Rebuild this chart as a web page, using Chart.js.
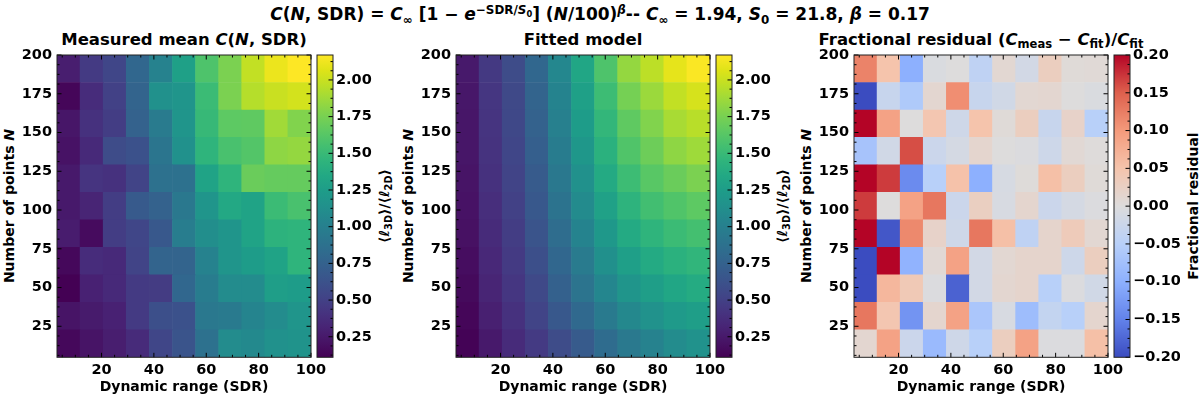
<!DOCTYPE html>
<html>
<head>
<meta charset="utf-8">
<script src="https://cdn.jsdelivr.net/npm/chart.js@4.4.1/dist/chart.umd.min.js"></script>
<style>
  body { margin: 0; width: 1200px; height: 398px; position: relative; overflow: hidden; background: #fff;
         font-family: "DejaVu Sans", sans-serif; font-weight: bold; color: #000; }
  canvas, .txt { position: absolute; }
  .txt { white-space: nowrap; transform: translate(-50%, -50%); line-height: 1; }
  .rot { transform: translate(-50%, -50%) rotate(-90deg); }
  .sup-title { font-size: 17px; }
  .ptitle { font-size: 16.5px; }
  .lab { font-size: 14px; }
  sub, sup { font-size: 70%; line-height: 0; position: relative; vertical-align: baseline; }
  sub { top: 0.3em; }
  sup { top: -0.5em; }
</style>
</head>
<body>
<div class="txt sup-title" style="left:600px; top:14px">
  <i>C</i>(<i>N</i>, SDR) = <i>C</i><sub>∞</sub> [1 − <i>e</i><sup>−SDR/<i>S</i><sub>0</sub></sup>] (<i>N</i>/100)<sup><i>β</i></sup>-- <i>C</i><sub>∞</sub> = 1.94, <i>S</i><sub>0</sub> = 21.8, <i>β</i> = 0.17
</div>

<div class="txt ptitle" style="left:184px; top:40px">Measured mean <i>C</i>(<i>N</i>, SDR)</div>
<div class="txt ptitle" style="left:583px; top:40px">Fitted model</div>
<div class="txt ptitle" style="left:981px; top:40px">Fractional residual (<i>C</i><sub>meas</sub> − <i>C</i><sub>fit</sub>)/<i>C</i><sub>fit</sub></div>

<div class="txt rot lab" style="left:9px; top:206px">Number of points <i>N</i></div>
<div class="txt rot lab" style="left:408px; top:206px">Number of points <i>N</i></div>
<div class="txt rot lab" style="left:806px; top:206px">Number of points <i>N</i></div>

<div class="txt rot lab" style="left:384px; top:206px">⟨<i>ℓ</i><sub>3D</sub>⟩/⟨<i>ℓ</i><sub>2D</sub>⟩</div>
<div class="txt rot lab" style="left:782px; top:206px">⟨<i>ℓ</i><sub>3D</sub>⟩/⟨<i>ℓ</i><sub>2D</sub>⟩</div>
<div class="txt rot lab" style="left:1193px; top:206px">Fractional residual</div>

<canvas id="measured" width="336" height="398" style="left:0px; top:0px"></canvas>
<canvas id="fitted" width="336" height="398" style="left:399px; top:0px"></canvas>
<canvas id="residual" width="336" height="398" style="left:797px; top:0px"></canvas>
<canvas id="cbMeasured" width="83" height="398" style="left:300px; top:0px"></canvas>
<canvas id="cbFitted" width="83" height="398" style="left:699px; top:0px"></canvas>
<canvas id="cbResidual" width="83" height="398" style="left:1097px; top:0px"></canvas>

<script>
// cell centres (SDR across, N up), rows listed from smallest N to largest
const sdr = [7.41, 16.23, 25.05, 33.86, 42.68, 51.5, 60.32, 69.14, 77.95, 86.77, 95.59];
const nPoints = [13.86, 31.59, 49.32, 67.05, 84.77, 102.5, 120.23, 137.95, 155.68, 173.41, 191.14];

const measured = [
  [0.15, 0.22, 0.28, 0.36, 0.54, 0.64, 0.87, 1.10, 1.08, 1.14, 1.16],
  [0.22, 0.26, 0.30, 0.46, 0.60, 0.62, 0.93, 0.95, 1.04, 1.10, 1.18],
  [0.11, 0.30, 0.35, 0.46, 0.47, 0.79, 0.97, 1.10, 1.10, 1.26, 1.24],
  [0.15, 0.37, 0.35, 0.52, 0.77, 0.77, 1.02, 1.18, 1.24, 1.30, 1.45],
  [0.27, 0.17, 0.48, 0.54, 0.67, 0.98, 1.12, 1.18, 1.30, 1.43, 1.45],
  [0.25, 0.32, 0.48, 0.69, 0.75, 0.93, 1.18, 1.35, 1.30, 1.51, 1.57],
  [0.25, 0.42, 0.40, 0.52, 0.87, 0.87, 1.30, 1.45, 1.70, 1.68, 1.68],
  [0.21, 0.35, 0.58, 0.62, 0.91, 1.14, 1.45, 1.57, 1.61, 1.82, 1.84],
  [0.23, 0.40, 0.48, 0.75, 0.96, 1.18, 1.49, 1.65, 1.66, 1.88, 1.78],
  [0.14, 0.37, 0.50, 0.77, 1.14, 1.18, 1.51, 1.76, 1.94, 2.00, 2.03],
  [0.28, 0.46, 0.54, 0.79, 1.02, 1.28, 1.59, 1.76, 1.98, 2.11, 2.17],
];

const fitted = [
  [0.12, 0.25, 0.36, 0.46, 0.58, 0.70, 0.83, 0.94, 1.02, 1.10, 1.15],
  [0.14, 0.29, 0.40, 0.52, 0.67, 0.81, 0.95, 1.07, 1.15, 1.22, 1.26],
  [0.16, 0.32, 0.43, 0.56, 0.74, 0.90, 1.05, 1.18, 1.26, 1.33, 1.37],
  [0.18, 0.34, 0.46, 0.60, 0.79, 0.96, 1.13, 1.27, 1.36, 1.42, 1.46],
  [0.20, 0.36, 0.48, 0.64, 0.84, 1.03, 1.21, 1.36, 1.45, 1.51, 1.55],
  [0.21, 0.38, 0.50, 0.67, 0.89, 1.09, 1.29, 1.44, 1.54, 1.60, 1.65],
  [0.22, 0.40, 0.52, 0.70, 0.93, 1.14, 1.36, 1.52, 1.63, 1.70, 1.76],
  [0.23, 0.41, 0.54, 0.73, 0.97, 1.20, 1.42, 1.60, 1.71, 1.82, 1.87],
  [0.23, 0.42, 0.55, 0.75, 1.00, 1.24, 1.47, 1.66, 1.78, 1.90, 1.95],
  [0.24, 0.43, 0.56, 0.77, 1.03, 1.28, 1.52, 1.74, 1.86, 1.98, 2.04],
  [0.25, 0.45, 0.58, 0.79, 1.06, 1.33, 1.59, 1.84, 1.96, 2.09, 2.16],
];

const residual = [
  [0.012, 0.09, -0.025, -0.085, -0.02, -0.05, 0.03, 0.09, -0.003, -0.003, 0.055],
  [0.13, 0.045, -0.13, 0.015, 0.09, -0.065, -0.008, -0.08, -0.035, -0.05, 0.015],
  [-0.2, 0.065, 0.04, -0.003, -0.18, -0.015, 0.012, 0.017, -0.05, -0.003, -0.018],
  [-0.2, 0.2, -0.095, 0.008, 0.09, -0.015, 0.01, 0.017, 0.017, -0.022, 0.03],
  [0.2, -0.19, 0.115, 0.02, -0.02, 0.13, 0.055, -0.04, 0.017, 0.035, 0.01],
  [0.17, 0.0, 0.09, 0.13, -0.025, 0.028, -0.008, 0.015, -0.025, -0.012, -0.003],
  [0.2, 0.17, -0.14, -0.05, 0.052, -0.1, -0.01, 0.003, 0.055, 0.03, 0.005],
  [-0.07, -0.018, 0.16, -0.025, -0.012, 0.015, 0.0, -0.003, -0.022, 0.008, 0.002],
  [0.2, 0.09, 0.0, 0.045, -0.02, 0.05, 0.005, 0.03, -0.03, 0.02, -0.05],
  [-0.2, -0.03, -0.06, 0.012, 0.11, -0.03, -0.018, 0.01, 0.012, 0.0, -0.005],
  [0.12, 0.05, -0.10, -0.005, 0.0, -0.04, 0.01, -0.015, 0.03, 0.005, 0.006],
];

const sdrTicks = [20, 40, 60, 80, 100];
const nTicks = [25, 50, 75, 100, 125, 150, 175, 200];
const ratioTicks = [0.25, 0.5, 0.75, 1.0, 1.25, 1.5, 1.75, 2.0];
const residualTicks = [-0.2, -0.15, -0.1, -0.05, 0, 0.05, 0.1, 0.15, 0.2];

// colour maps
const viridis = ['#440154', '#471365', '#482475', '#463480', '#414487', '#3b528b', '#355f8d',
  '#2f6c8e', '#2a788e', '#25848e', '#21918c', '#1e9c89', '#22a884', '#2fb47c', '#44bf70',
  '#5ec962', '#7ad151', '#9bd93c', '#bddf26', '#dfe318', '#fde725'];
const coolwarm = ['#3b4cc0', '#6282ea', '#8db0fe', '#b8d0f9', '#dddcdc', '#f5c4ac', '#f49a7b',
  '#de604d', '#b40426'];

const hexRgb = (h) => [1, 3, 5].map(i => parseInt(h.slice(i, i + 2), 16));

const cmap = (stops, t) => {
  t = Math.min(1, Math.max(0, t));
  const k = t * (stops.length - 1);
  const i = Math.min(stops.length - 2, Math.floor(k));
  const f = k - i;
  const a = hexRgb(stops[i]);
  const b = hexRgb(stops[i + 1]);
  const c = a.map((v, j) => Math.round(v + (b[j] - v) * f));
  return `rgb(${c[0]}, ${c[1]}, ${c[2]})`;
};

const ratioRange = [0.11, 2.17];
const residualRange = [-0.2, 0.2];

const fontTick = { family: 'DejaVu Sans', size: 14.5, weight: 'bold' };
const fontLabel = { family: 'DejaVu Sans', size: 14, weight: 'bold' };
const fmt = (v) => v.toFixed(2).replace('-', '\u2212');

// inward ticks on the frame, matplotlib style
const inTicks = {
  id: 'inTicks',
  afterDatasetsDraw(chart, args, opts) {
    const { ctx, chartArea: a } = chart;
    ctx.save();
    ctx.strokeStyle = '#000';
    ctx.lineWidth = 1;
    ctx.beginPath();
    const axisMarks = (scale, major, minorStep, sides) => {
      const list = [];
      major.forEach(v => list.push([v, 4.5]));
      for (let v = Math.ceil(scale.min / minorStep) * minorStep; v <= scale.max + 1e-9; v += minorStep) {
        if (!major.some(m => Math.abs(m - v) < 1e-6)) list.push([v, 2.5]);
      }
      list.forEach(([v, len]) => {
        const p = scale.getPixelForValue(v);
        if (scale.isHorizontal()) {
          if (sides.includes('bottom')) { ctx.moveTo(p, a.bottom); ctx.lineTo(p, a.bottom - len); }
          if (sides.includes('top')) { ctx.moveTo(p, a.top); ctx.lineTo(p, a.top + len); }
        } else {
          if (sides.includes('left')) { ctx.moveTo(a.left, p); ctx.lineTo(a.left + len, p); }
          if (sides.includes('right')) { ctx.moveTo(a.right, p); ctx.lineTo(a.right - len, p); }
        }
      });
    };
    if (opts.x) axisMarks(chart.scales.x, opts.x.major, opts.x.minor, ['top', 'bottom']);
    if (opts.y) axisMarks(chart.scales.y, opts.y.major, opts.y.minor, opts.y.sides);
    ctx.stroke();
    ctx.strokeStyle = '#222';
    ctx.strokeRect(a.left, a.top, a.width, a.height);
    ctx.restore();
  }
};

const heatmap = (id, grid, colorOf) => {
  const half = (nPoints[1] - nPoints[0]) / 2;
  const datasets = nPoints.map((n, i) => ({
    data: sdr.map(s => ({ x: s, y: [n - half, n + half] })),
    backgroundColor: grid[i].map(colorOf),
    borderWidth: 0,
    grouped: false,
    barPercentage: 1,
    categoryPercentage: 1,
  }));
  return new Chart(document.getElementById(id), {
    type: 'bar',
    data: { datasets },
    plugins: [inTicks],
    options: {
      responsive: false,
      devicePixelRatio: 1,
      animation: false,
      layout: { padding: { top: 55, right: 25, bottom: 0, left: 0 } },
      scales: {
        x: {
          type: 'linear', min: 3, max: 100, offset: false,
          grid: { display: false, drawTicks: false, offset: false },
          border: { display: false },
          afterBuildTicks: (s) => { s.ticks = sdrTicks.map(v => ({ value: v })); },
          afterFit: (s) => { s.height = 40.7; },
          ticks: { color: '#000', font: fontTick, padding: 4, maxRotation: 0 },
          title: { display: true, text: 'Dynamic range (SDR)', color: '#000', font: fontLabel, padding: { top: 0, bottom: 2 } },
        },
        y: {
          type: 'linear', min: 5, max: 200,
          grid: { display: false, drawTicks: false },
          border: { display: false },
          afterBuildTicks: (s) => { s.ticks = nTicks.map(v => ({ value: v })); },
          afterFit: (s) => { s.width = 57; },
          ticks: { color: '#000', font: fontTick, padding: 5 },
        },
      },
      plugins: {
        legend: { display: false },
        tooltip: { enabled: false },
        inTicks: { x: { major: sdrTicks, minor: 5 }, y: { major: nTicks, minor: 6.25, sides: ['left', 'right'] } },
      },
    },
  });
};

const colorbar = (id, range, stops, tickValues, minorStep) => new Chart(document.getElementById(id), {
  type: 'bar',
  data: {
    labels: ['scale'],
    datasets: [{
      data: [range],
      borderWidth: 0,
      barPercentage: 1,
      categoryPercentage: 1,
      backgroundColor: (c) => {
        const a = c.chart.chartArea;
        if (!a) return stops[0];
        const g = c.chart.ctx.createLinearGradient(0, a.bottom, 0, a.top);
        stops.forEach((s, i) => g.addColorStop(i / (stops.length - 1), s));
        return g;
      },
    }],
  },
  plugins: [inTicks],
  options: {
    responsive: false,
    devicePixelRatio: 1,
    animation: false,
    layout: { padding: { top: 55, right: 0, bottom: 40.7, left: 17 } },
    scales: {
      x: { display: false },
      y: {
        position: 'right', min: range[0], max: range[1],
        grid: { display: false, drawTicks: false },
        border: { display: false },
        afterBuildTicks: (s) => { s.ticks = tickValues.map(v => ({ value: v })); },
        afterFit: (s) => { s.width = 50; },
        ticks: { color: '#000', font: fontTick, padding: 3, callback: (v) => fmt(v) },
      },
    },
    plugins: {
      legend: { display: false },
      tooltip: { enabled: false },
      inTicks: { y: { major: tickValues, minor: minorStep, sides: ['right'] } },
    },
  },
});

const ratioColor = (v) => cmap(viridis, (v - ratioRange[0]) / (ratioRange[1] - ratioRange[0]));
const residualColor = (v) => cmap(coolwarm, (v - residualRange[0]) / (residualRange[1] - residualRange[0]));

heatmap('measured', measured, ratioColor);
heatmap('fitted', fitted, ratioColor);
heatmap('residual', residual, residualColor);
colorbar('cbMeasured', ratioRange, viridis, ratioTicks, 0.0625);
colorbar('cbFitted', ratioRange, viridis, ratioTicks, 0.0625);
colorbar('cbResidual', residualRange, coolwarm, residualTicks, 0.0125);
</script>
</body>
</html>
